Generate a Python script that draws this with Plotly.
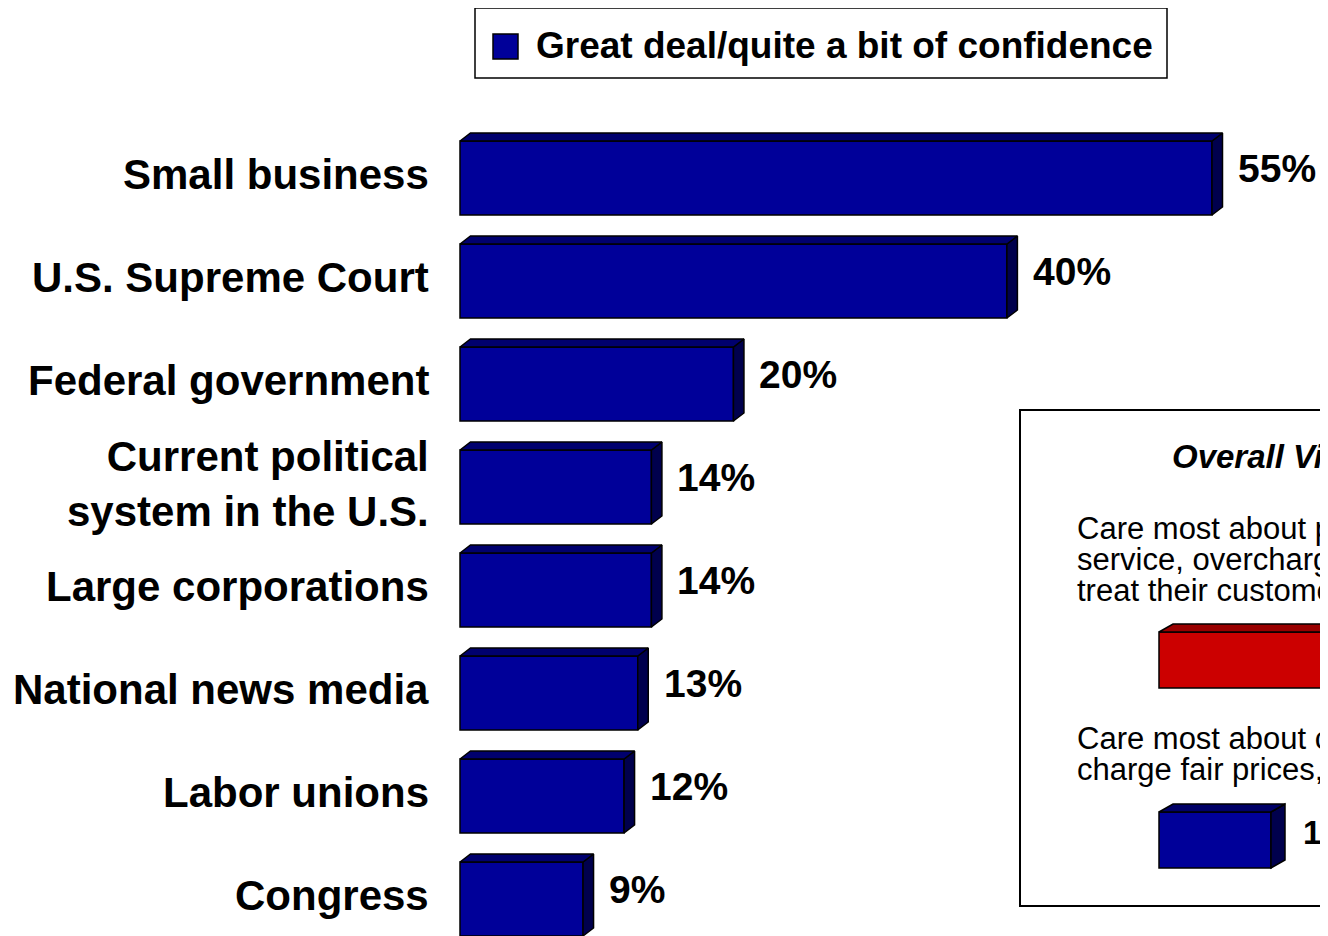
import plotly.graph_objects as go

# ---------------- data ----------------
categories = [
    "Small business",
    "U.S. Supreme Court",
    "Federal government",
    "Current political<br>system in the U.S.",
    "Large corporations",
    "National news media",
    "Labor unions",
    "Congress",
]
values = [55, 40, 20, 14, 14, 13, 12, 9]
legend_label = "Great deal/quite a bit of confidence"

inset_title = "Overall View of Large Corporations"
inset_statements = [
    ["Care most about profits, provide poor",
     "service, overcharge customers, and don't",
     "treat their customers well"],
    ["Care most about customers, provide good service,",
     "charge fair prices, and treat customers well"],
]
inset_values = [76, 18]
inset_colors = ["#CC0000", "#000099"]
inset_top_colors = ["#990000", "#000066"]
inset_side_colors = ["#800000", "#00004D"]

# ---------------- geometry / style ----------------
W, H = 1328, 936
OFF = 8  # page body margin
FONT = "Liberation Sans, Arial, Helvetica, sans-serif"
FRONT = "#000099"
TOP = "#00006E"
SIDE = "#00004D"


def px(x):
    return (x - OFF) / W


def py(y):
    return 1 - (y - OFF) / H


RIGHT = W + OFF
BOTTOM = H + OFF

# main axis scale: value 0 at 460px, 55 at 1212px (screen pixels)
S1 = (1212 - 460) / 55.0
X1_DOM0 = 440
x1_range = [-(460 - X1_DOM0) / S1, (RIGHT - 460) / S1]
ROW = 103.0
ROW0 = 178.0
y1_range = [(BOTTOM - ROW0) / ROW, (OFF - ROW0) / ROW]
BAR_W = 74 / ROW
DX1 = 10.5 / S1
DY1 = 8 / ROW

# inset axis scale
S2 = (1271 - 1159) / 18.0
X2_DOM0 = 1140
x2_range = [-(1159 - X2_DOM0) / S2, (RIGHT - 1159) / S2]
ROW2 = 180.0
ROW2_0 = 660.0
y2_range = [(BOTTOM - ROW2_0) / ROW2, (OFF - ROW2_0) / ROW2]
BAR_W2 = 56 / ROW2
DX2 = 14 / S2
DY2 = 8 / ROW2


def faces(vals, width, dx, dy, base=0):
    top_x, top_y, side_x, side_y = [], [], [], []
    for k, v in enumerate(vals):
        i = base + k
        yt = i - width / 2
        yb = i + width / 2
        top_x += [0, dx, v + dx, v, 0, None]
        top_y += [yt, yt - dy, yt - dy, yt, yt, None]
        side_x += [v, v + dx, v + dx, v, v, None]
        side_y += [yt, yt - dy, yb - dy, yb, yt, None]
    return top_x, top_y, side_x, side_y


fig = go.Figure()
idx = list(range(len(values)))

tx, ty, sx, sy = faces(values, BAR_W, DX1, DY1)
fig.add_trace(go.Scatter(x=sx, y=sy, mode="lines", fill="toself", fillcolor=SIDE,
                         line=dict(color="black", width=1.5), hoverinfo="skip",
                         showlegend=False, xaxis="x", yaxis="y"))
fig.add_trace(go.Scatter(x=tx, y=ty, mode="lines", fill="toself", fillcolor=TOP,
                         line=dict(color="black", width=1.5), hoverinfo="skip",
                         showlegend=False, xaxis="x", yaxis="y"))
fig.add_trace(go.Bar(x=values, y=idx, orientation="h", width=BAR_W,
                     marker=dict(color=FRONT, line=dict(color="black", width=1.5)),
                     name=legend_label, showlegend=False, xaxis="x", yaxis="y"))

# inset bars
idx2 = list(range(len(inset_values)))
for i, v in enumerate(inset_values):
    tx2, ty2, sx2, sy2 = faces([v], BAR_W2, DX2, DY2, base=i)
    fig.add_trace(go.Scatter(x=sx2, y=sy2, mode="lines", fill="toself",
                             fillcolor=inset_side_colors[i],
                             line=dict(color="black", width=1.5), hoverinfo="skip",
                             showlegend=False, xaxis="x2", yaxis="y2"))
    fig.add_trace(go.Scatter(x=tx2, y=ty2, mode="lines", fill="toself",
                             fillcolor=inset_top_colors[i],
                             line=dict(color="black", width=1.5), hoverinfo="skip",
                             showlegend=False, xaxis="x2", yaxis="y2"))
fig.add_trace(go.Bar(x=inset_values, y=idx2, orientation="h", width=BAR_W2,
                     marker=dict(color=inset_colors, line=dict(color="black", width=1.5)),
                     showlegend=False, xaxis="x2", yaxis="y2"))

annotations = []
# category labels
for i, c in enumerate(categories):
    annotations.append(dict(x=px(431), xref="paper", xanchor="right", y=i - 0.03, yref="y",
                            yanchor="middle", text=f"<b>{c}</b>", align="right",
                            showarrow=False,
                            font=dict(family=FONT, size=42, color="black")))
# value labels
for i, v in enumerate(values):
    annotations.append(dict(x=v, xref="x", xanchor="left", xshift=24, y=i - 0.09, yref="y",
                            yanchor="middle", text=f"<b>{v}%</b>", showarrow=False,
                            font=dict(family=FONT, size=39, color="black")))
# legend text
annotations.append(dict(x=px(534), xref="paper", xanchor="left", y=py(46), yref="paper",
                        yanchor="middle", text=f"<b>{legend_label}</b>", showarrow=False,
                        font=dict(family=FONT, size=37, color="black")))
# inset title
annotations.append(dict(x=px(1170), xref="paper", xanchor="left", y=py(456), yref="paper",
                        yanchor="middle", text=f"<b><i>{inset_title}</i></b>", showarrow=False,
                        font=dict(family=FONT, size=33, color="black")))
# inset statements
stmt_centers = [[528, 559, 590], [738, 769]]
for lines, centers in zip(inset_statements, stmt_centers):
    for line, cy in zip(lines, centers):
        annotations.append(dict(x=px(1075), xref="paper", xanchor="left", y=py(cy),
                                yref="paper", yanchor="middle", text=line, showarrow=False,
                                font=dict(family=FONT, size=31, color="black")))
# inset value labels
for i, v in enumerate(inset_values):
    annotations.append(dict(x=v, xref="x2", xanchor="left", xshift=30, y=i - 0.04, yref="y2",
                            yanchor="middle", text=f"<b>{v}%</b>", showarrow=False,
                            font=dict(family=FONT, size=33, color="black")))

shapes = [
    # legend box
    dict(type="rect", xref="paper", yref="paper", x0=px(475), x1=px(1167),
         y0=py(78), y1=py(8), line=dict(color="black", width=1.5), fillcolor="rgba(0,0,0,0)"),
    # legend swatch
    dict(type="rect", xref="paper", yref="paper", x0=px(493), x1=px(518),
         y0=py(59), y1=py(34), line=dict(color="black", width=1.5), fillcolor=FRONT),
    # inset box
    dict(type="rect", xref="paper", yref="paper", x0=px(1020), x1=1.05,
         y0=py(906), y1=py(410), line=dict(color="black", width=2), fillcolor="rgba(0,0,0,0)"),
]

hidden = dict(showgrid=False, zeroline=False, showticklabels=False, ticks="", showline=False)

fig.update_layout(
    width=W, height=H,
    margin=dict(l=0, r=0, t=0, b=0),
    paper_bgcolor="white", plot_bgcolor="rgba(0,0,0,0)",
    showlegend=False,
    xaxis=dict(domain=[px(X1_DOM0), 1], range=x1_range, anchor="y", **hidden),
    yaxis=dict(domain=[0, 1], range=y1_range, anchor="x", **hidden),
    xaxis2=dict(domain=[px(X2_DOM0), 1], range=x2_range, anchor="y2", **hidden),
    yaxis2=dict(domain=[0, 1], range=y2_range, anchor="x2", **hidden),
    annotations=annotations,
    shapes=shapes,
    font=dict(family=FONT),
)

fig.write_html("out.html")
